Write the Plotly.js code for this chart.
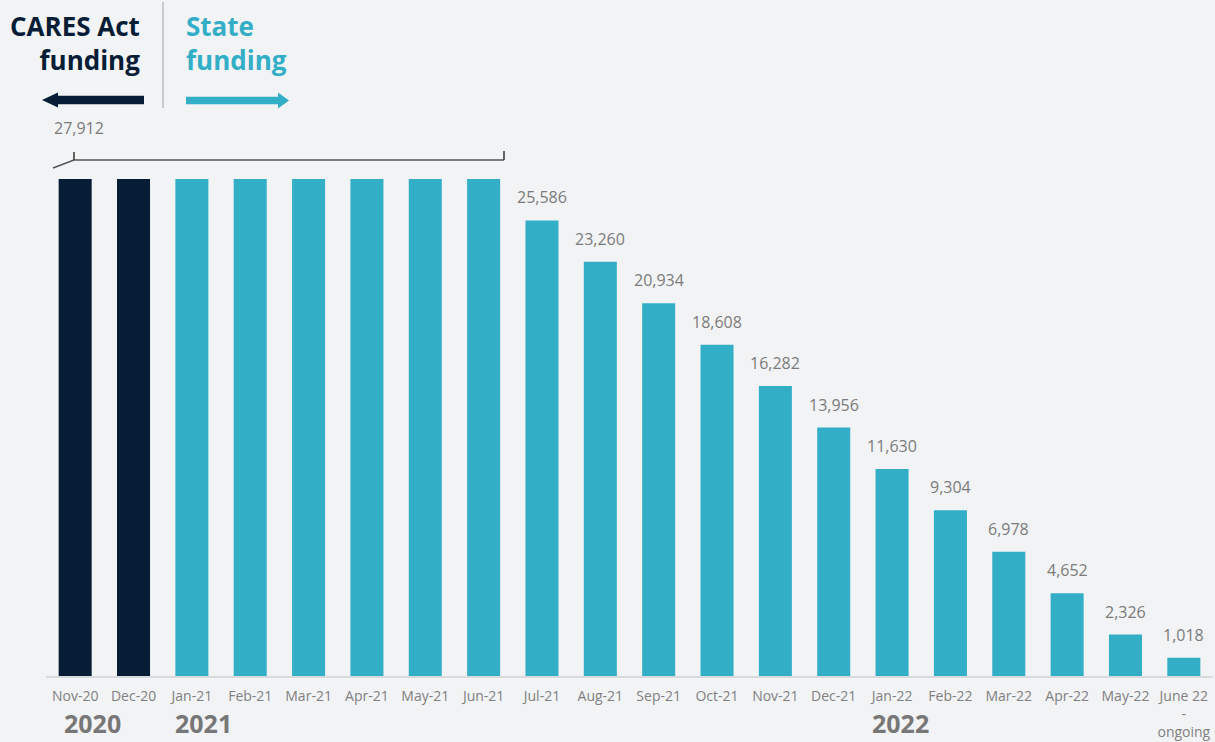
<!DOCTYPE html>
<html>
<head>
<meta charset="utf-8">
<script src="https://cdn.plot.ly/plotly-3.0.1.min.js"></script>
<style>
  html, body { margin: 0; padding: 0; background: #f2f3f5; }
  #chart { width: 1215px; height: 742px; }
</style>
</head>
<body>
<div id="chart"></div>
<script>
// ---- Data ----
const months = ['Nov-20','Dec-20','Jan-21','Feb-21','Mar-21','Apr-21','May-21','Jun-21',
  'Jul-21','Aug-21','Sep-21','Oct-21','Nov-21','Dec-21','Jan-22','Feb-22','Mar-22',
  'Apr-22','May-22','June 22<br>-<br>ongoing'];
const values = [27912,27912,27912,27912,27912,27912,27912,27912,
  25586,23260,20934,18608,16282,13956,11630,9304,6978,4652,2326,1018];
const source = ['CARES','CARES','State','State','State','State','State','State',
  'State','State','State','State','State','State','State','State','State','State','State','State'];
const showLabel = [false,false,false,false,false,false,false,false,
  true,true,true,true,true,true,true,true,true,true,true,true];
const flatValueLabel = '27,912';
const years = ['2020','2021','2022'];

// ---- Styles ----
const NAVY = '#061d35', TEAL = '#33aec7', GRAY = '#7b7b7b';
const FONT = 'Open Sans, Noto Sans, sans-serif';
const W = 1215, H = 742, L = 46, R = 2, T = 0, B = 66;
const PW = W - L - R, PH = H - T - B;
const px = X => (X - L) / PW;
const py = Y => (T + PH - Y) / PH;

const fmt = v => v.toLocaleString('en-US');

const trace = {
  type: 'bar',
  x: months,
  y: values,
  marker: { color: source.map(s => s === 'CARES' ? NAVY : TEAL), line: { width: 0 } },
  hoverinfo: 'x+y'
};

const annotations = [];
months.forEach((m, i) => {
  if (!showLabel[i]) return;
  annotations.push({
    x: m, y: values[i], xref: 'x', yref: 'y', text: fmt(values[i]),
    showarrow: false, xanchor: 'center', yanchor: 'bottom', yshift: 10,
    font: { family: FONT, size: 16, color: GRAY }
  });
});
annotations.push({
  x: px(79), y: py(128), xref: 'paper', yref: 'paper', text: flatValueLabel,
  xanchor: 'center', yanchor: 'middle',
  showarrow: false, font: { family: FONT, size: 16, color: GRAY }
});
annotations.push({
  x: px(142), y: py(43), xref: 'paper', yref: 'paper', text: '<b>CARES Act<br>funding</b>',
  xanchor: 'right', yanchor: 'middle', align: 'right', showarrow: false,
  font: { family: FONT, size: 26, color: NAVY }
});
annotations.push({
  x: px(184), y: py(43), xref: 'paper', yref: 'paper', text: '<b>State<br>funding</b>',
  xanchor: 'left', yanchor: 'middle', align: 'left', showarrow: false,
  font: { family: FONT, size: 26, color: TEAL }
});
const yearX = [92, 203, 900];
years.forEach((yr, i) => {
  annotations.push({
    x: px(yearX[i]), y: py(723), xref: 'paper', yref: 'paper', text: '<b>' + yr + '</b>',
    xanchor: 'center', yanchor: 'middle',
    showarrow: false, font: { family: FONT, size: 25, color: '#777777' }
  });
});

const shapes = [
  { type: 'line', xref: 'paper', yref: 'paper', x0: px(163), x1: px(163), y0: py(2), y1: py(108),
    line: { color: '#a0a0a0', width: 1 } },
  { type: 'rect', xref: 'paper', yref: 'paper', x0: px(56), x1: px(144), y0: py(95.7), y1: py(104.3),
    fillcolor: NAVY, line: { width: 0 } },
  { type: 'path', xref: 'paper', yref: 'paper',
    path: `M ${px(42)} ${py(100)} L ${px(58)} ${py(92.5)} L ${px(58)} ${py(107.5)} Z`,
    fillcolor: NAVY, line: { width: 0 } },
  { type: 'rect', xref: 'paper', yref: 'paper', x0: px(186), x1: px(280), y0: py(96.7), y1: py(104.3),
    fillcolor: TEAL, line: { width: 0 } },
  { type: 'path', xref: 'paper', yref: 'paper',
    path: `M ${px(289)} ${py(100.5)} L ${px(278)} ${py(92.5)} L ${px(278)} ${py(108.5)} Z`,
    fillcolor: TEAL, line: { width: 0 } },
  { type: 'path', xref: 'paper', yref: 'paper',
    path: `M ${px(53)} ${py(168)} L ${px(74)} ${py(160)} L ${px(504)} ${py(160)}`,
    line: { color: '#555555', width: 1.5 } },
  { type: 'line', xref: 'paper', yref: 'paper', x0: px(74), x1: px(74), y0: py(152), y1: py(160),
    line: { color: '#333333', width: 1.5 } },
  { type: 'line', xref: 'paper', yref: 'paper', x0: px(504), x1: px(504), y0: py(151), y1: py(160),
    line: { color: '#333333', width: 1.5 } }
];

const layout = {
  width: W, height: H,
  margin: { l: L, r: R, t: T, b: B, pad: 0 },
  paper_bgcolor: '#f2f3f5', plot_bgcolor: '#f2f3f5',
  bargap: 0.434,
  showlegend: false,
  xaxis: {
    type: 'category', showline: true, linecolor: '#d9dadd', linewidth: 2,
    ticks: '', showgrid: false, zeroline: false, fixedrange: true,
    ticklabelstandoff: 6,
    tickfont: { family: FONT, size: 14, color: '#808080' }
  },
  yaxis: { visible: false, range: [0, 37965], fixedrange: true, showgrid: false, zeroline: false },
  annotations: annotations,
  shapes: shapes
};

Plotly.newPlot('chart', [trace], layout, { displayModeBar: false, responsive: false });
</script>
</body>
</html>
